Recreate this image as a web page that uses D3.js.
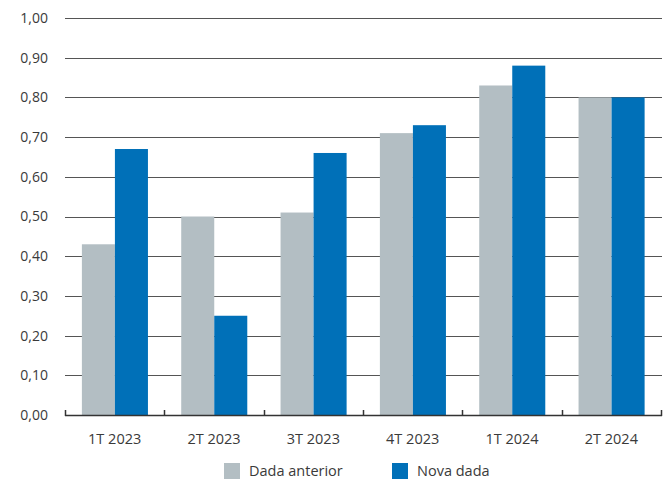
<!DOCTYPE html>
<html><head><meta charset="utf-8">
<script src="https://cdn.jsdelivr.net/npm/d3@7"></script>
<style>body{margin:0;background:#fff}svg{display:block}text{font-family:"Open Sans",sans-serif;fill:#3a3a3a}</style>
</head><body><svg id="c" width="672" height="484"></svg>
<script>
const categories = ["1T 2023","2T 2023","3T 2023","4T 2023","1T 2024","2T 2024"];
const seriesNames = ["Dada anterior","Nova dada"];
const dadaAnterior = [0.43,0.50,0.51,0.71,0.83,0.80];
const novaDada = [0.67,0.25,0.66,0.73,0.88,0.80];
const yTicks = [0,0.1,0.2,0.3,0.4,0.5,0.6,0.7,0.8,0.9,1.0];
const colors = ["#b3bec3","#0070b8"];

const svg = d3.select("#c");
const L=65,R=661,T=18,B=415;
const x = d3.scaleBand().domain(categories).range([L,R]);
const y = d3.scaleLinear().domain([0,1]).range([B,T]);
const bw = x.bandwidth();
const inner = d3.scaleBand().domain(seriesNames).range([bw*0.17,bw*0.835]);
const fmt = v => d3.format(".2f")(v).replace(".",",");

// gridlines
svg.append("g").selectAll("line").data(yTicks.filter(d=>d>0)).join("line")
  .attr("x1",L).attr("x2",R+1).attr("y1",d=>Math.round(y(d))+0.5).attr("y2",d=>Math.round(y(d))+0.5)
  .attr("stroke","#555").attr("stroke-width",1);
// y labels
svg.append("g").selectAll("text").data(yTicks).join("text")
  .attr("x",48).attr("y",d=>y(d)).attr("dy","0.35em").attr("text-anchor","end")
  .style("font-size","14px").text(fmt);

// bars
const data = [dadaAnterior, novaDada];
data.forEach((vals,si)=>{
  svg.append("g").selectAll("rect").data(vals).join("rect")
    .attr("x",(d,i)=>x(categories[i])+inner(seriesNames[si]))
    .attr("width",inner.bandwidth())
    .attr("y",d=>y(d)).attr("height",d=>B-y(d))
    .attr("fill",colors[si]);
});

// x axis
const ax = svg.append("g").attr("transform",`translate(0,${B})`);
ax.append("line").attr("x1",L).attr("x2",R+1).attr("y1",0.5).attr("y2",0.5).attr("stroke","#333").attr("stroke-width",1.5);
const bounds = categories.map(c=>x(c)).concat([R]);
ax.selectAll("line.t").data(bounds).join("line").attr("class","t")
  .attr("x1",d=>Math.round(d)+0.5).attr("x2",d=>Math.round(d)+0.5).attr("y1",-5).attr("y2",1)
  .attr("stroke","#333").attr("stroke-width",1.5);
ax.selectAll("text").data(categories).join("text")
  .attr("x",d=>x(d)+bw/2).attr("y",29).attr("text-anchor","middle")
  .style("font-size","14.5px").text(d=>d);

// legend
const lg = svg.append("g");
const lx = [224,392];
seriesNames.forEach((n,i)=>{
  lg.append("rect").attr("x",lx[i]).attr("y",463).attr("width",16).attr("height",16).attr("fill",colors[i]);
  lg.append("text").attr("x",lx[i]+25).attr("y",471).attr("dy","0.35em").style("font-size","14.5px").text(n);
});
</script></body></html>
